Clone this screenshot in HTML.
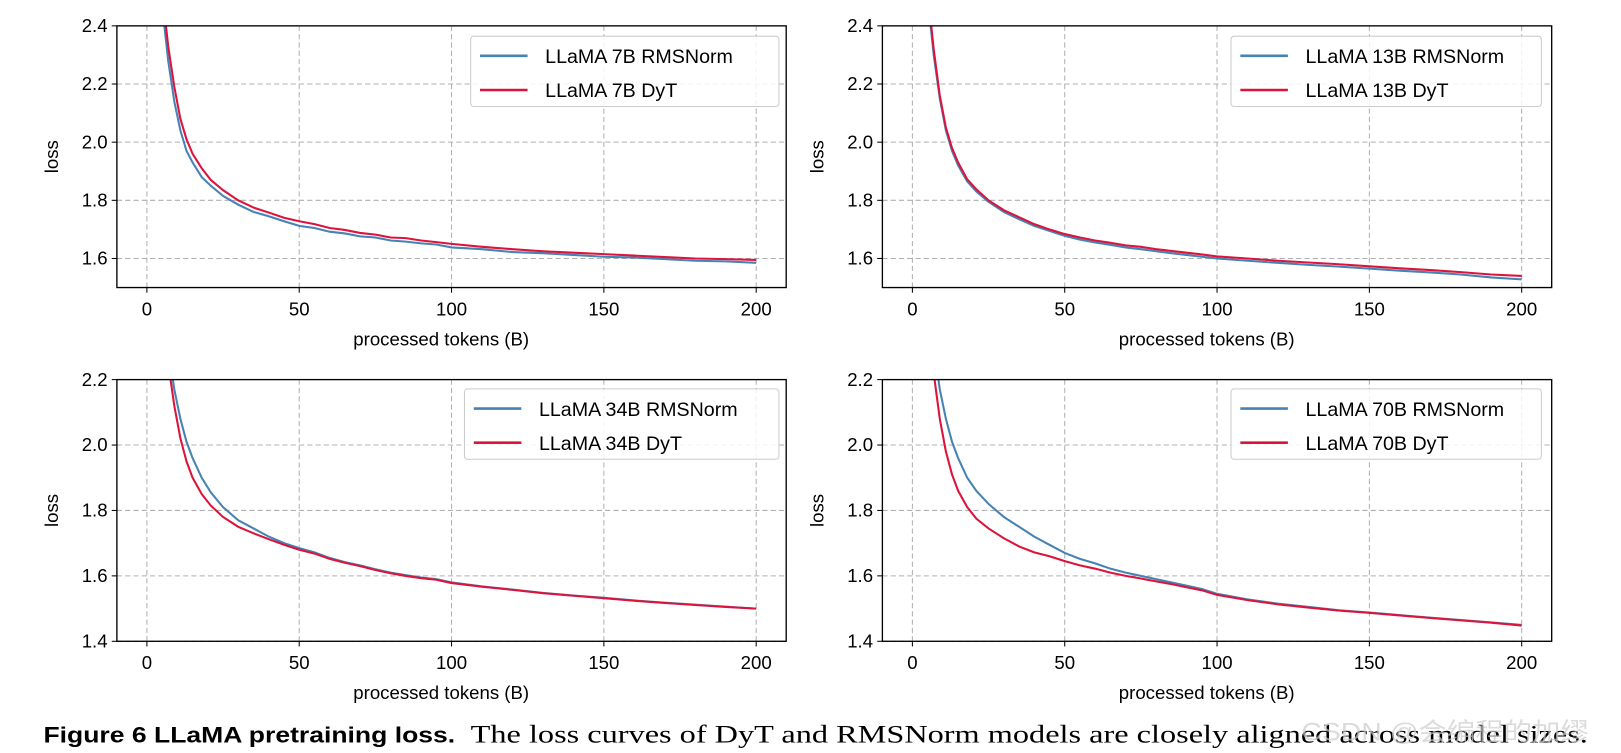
<!DOCTYPE html>
<html><head><meta charset="utf-8"><style>
body{margin:0;background:#fff;width:1621px;height:753px;overflow:hidden}
svg{display:block;font-family:"Liberation Sans",sans-serif}
</style></head><body>
<svg id="fig" width="1621" height="753" viewBox="0 0 1567 728" preserveAspectRatio="none">
<text x="42" y="718" font-size="21" font-weight="bold" fill="#000" textLength="398" lengthAdjust="spacingAndGlyphs">Figure 6  LLaMA pretraining loss.</text>
<text x="455" y="718" font-size="24" font-family="Liberation Serif,serif" fill="#000" textLength="1080" lengthAdjust="spacingAndGlyphs">The loss curves of DyT and RMSNorm models are closely aligned across model sizes.</text>
<text x="1258" y="716" font-size="24" fill="#ccc" opacity="0.7" textLength="278" lengthAdjust="spacingAndGlyphs" font-family="Liberation Sans,'Noto Sans CJK SC',sans-serif">CSDN @会编程的加缪</text>
</svg>
<script>
const xs=[5,7,9,11,13,15,18,21,25,30,35,40,45,50,55,60,65,70,75,80,85,90,95,100,110,120,130,140,150,160,170,180,190,200];
const rms7=[2.47,2.28,2.14,2.04,1.97,1.93,1.88,1.85,1.815,1.785,1.76,1.745,1.728,1.712,1.705,1.692,1.686,1.676,1.672,1.662,1.658,1.652,1.648,1.638,1.632,1.622,1.618,1.612,1.606,1.603,1.598,1.592,1.59,1.585];
const dyt7=[2.52,2.33,2.19,2.08,2.01,1.96,1.91,1.87,1.835,1.8,1.775,1.758,1.74,1.728,1.718,1.705,1.698,1.688,1.682,1.672,1.67,1.662,1.656,1.65,1.64,1.632,1.625,1.62,1.615,1.61,1.605,1.6,1.598,1.595];
const rms13=[2.5,2.3,2.15,2.04,1.97,1.92,1.865,1.83,1.795,1.76,1.735,1.712,1.695,1.678,1.665,1.655,1.647,1.638,1.632,1.625,1.618,1.612,1.606,1.6,1.592,1.585,1.578,1.572,1.565,1.558,1.552,1.545,1.535,1.528];
const dyt13=[2.52,2.32,2.16,2.05,1.98,1.93,1.872,1.838,1.8,1.766,1.742,1.718,1.7,1.684,1.672,1.662,1.654,1.645,1.64,1.632,1.626,1.62,1.614,1.607,1.6,1.592,1.586,1.58,1.573,1.566,1.56,1.553,1.545,1.54];
const rms34=[2.45,2.3,2.17,2.08,2.01,1.96,1.9,1.855,1.81,1.77,1.745,1.72,1.7,1.685,1.672,1.655,1.642,1.632,1.62,1.61,1.602,1.595,1.59,1.58,1.568,1.558,1.548,1.54,1.533,1.525,1.518,1.512,1.506,1.5];
const dyt34=[2.45,2.25,2.12,2.02,1.95,1.9,1.85,1.815,1.78,1.75,1.73,1.712,1.695,1.68,1.668,1.652,1.64,1.63,1.618,1.608,1.6,1.593,1.588,1.578,1.567,1.557,1.547,1.539,1.532,1.524,1.517,1.511,1.505,1.5];
const rms70=[2.45,2.3,2.17,2.08,2.01,1.96,1.9,1.86,1.82,1.78,1.75,1.72,1.695,1.67,1.652,1.638,1.622,1.61,1.6,1.59,1.58,1.57,1.56,1.545,1.528,1.515,1.505,1.495,1.488,1.48,1.472,1.465,1.458,1.45];
const dyt70=[2.4,2.22,2.08,1.98,1.91,1.86,1.81,1.775,1.745,1.715,1.69,1.672,1.66,1.645,1.632,1.622,1.61,1.6,1.592,1.583,1.575,1.565,1.556,1.542,1.526,1.513,1.503,1.494,1.487,1.479,1.471,1.464,1.457,1.448];
const xTicks=[0,50,100,150,200];
const yTicksTop=[1.6,1.8,2.0,2.2,2.4];
const yTicksBot=[1.4,1.6,1.8,2.0,2.2];
const panels=[
 {name:'7b',L:113,R:760,T:25,B:278,x0:142,x1:731,ymin:1.5,ymax:2.4,ticks:yTicksTop,lx:455,ly:35,lw:298,r:rms7,d:dyt7,lab:'LLaMA 7B'},
 {name:'13b',L:853,R:1500,T:25,B:278,x0:882,x1:1471,ymin:1.5,ymax:2.4,ticks:yTicksTop,lx:1190,ly:35,lw:300,r:rms13,d:dyt13,lab:'LLaMA 13B'},
 {name:'34b',L:113,R:760,T:367,B:620,x0:142,x1:731,ymin:1.4,ymax:2.2,ticks:yTicksBot,lx:449,ly:376,lw:304,r:rms34,d:dyt34,lab:'LLaMA 34B'},
 {name:'70b',L:853,R:1500,T:367,B:620,x0:882,x1:1471,ymin:1.4,ymax:2.2,ticks:yTicksBot,lx:1190,ly:376,lw:300,r:rms70,d:dyt70,lab:'LLaMA 70B'}];
const svg=document.getElementById('fig');const NS='http://www.w3.org/2000/svg';
function mk(t,a,p){const e=document.createElementNS(NS,t);for(const k in a)e.setAttribute(k,a[k]);(p||svg).appendChild(e);return e;}
panels.forEach(p=>{
 const g=mk('g',{});
 
 
 const sx=v=>p.x0+(v-0)*(p.x1-p.x0)/200;
 const sy=v=>p.B-(v-p.ymin)*(p.B-p.T)/(p.ymax-p.ymin);
 const cp=mk('clipPath',{id:'c'+p.name},g);mk('rect',{x:p.L,y:p.T,width:p.R-p.L,height:p.B-p.T},cp);
 xTicks.forEach(v=>{const x=sx(v);
  const gl=mk('line',{x1:x,x2:x,y1:p.T,y2:p.B,stroke:'#b0b0b0','stroke-dasharray':'5,3','stroke-width':1},g);
  
  mk('line',{x1:x,x2:x,y1:p.B,y2:p.B+5,stroke:'#000'},g);
  const t=mk('text',{x:x,y:p.B+27,'font-size':18,'text-anchor':'middle'},g);t.textContent=v;
  });
 p.ticks.forEach(v=>{const y=sy(v);
  if(v<p.ymax){const gl=mk('line',{x1:p.L,x2:p.R,y1:y,y2:y,stroke:'#b0b0b0','stroke-dasharray':'5,3','stroke-width':1},g);
  }
  mk('line',{x1:p.L-5,x2:p.L,y1:y,y2:y,stroke:'#000'},g);
  const t=mk('text',{x:p.L-9,y:y+6,'font-size':18,'text-anchor':'end'},g);t.textContent=v.toFixed(1);
  });
 [[p.r,'#4682b4','rmsnorm'],[p.d,'#dc143c','dyt']].forEach(([arr,c,n])=>{
  const pts=xs.map((x,i)=>sx(x).toFixed(1)+','+sy(arr[i]).toFixed(1)).join(' ');
  const l=mk('polyline',{points:pts,fill:'none',stroke:c,'stroke-width':2,'clip-path':'url(#c'+p.name+')'},g);
  });
 const fr=mk('rect',{x:p.L,y:p.T,width:p.R-p.L,height:p.B-p.T,fill:'none',stroke:'#000','stroke-width':1.3},g);
 
 const xl=mk('text',{x:(p.L+p.R)/2-10,y:p.B+56,'font-size':18,'text-anchor':'middle'},g);xl.textContent='processed tokens (B)';
 
 const yl=mk('text',{x:0,y:0,'font-size':18,'text-anchor':'middle',transform:`translate(${p.L-57},${(p.T+p.B)/2}) rotate(-90)`},g);yl.textContent='loss';
 
 const lg=mk('g',{},g);
 
 mk('rect',{x:p.lx,y:p.ly,width:p.lw,height:68,rx:3,fill:'#fff','fill-opacity':0.85,stroke:'#ccc'},lg);
 [['RMSNorm','#4682b4'],['DyT','#dc143c']].forEach(([s,c],i)=>{const y=p.ly+19+i*33;
  mk('line',{x1:p.lx+9,x2:p.lx+55,y1:y,y2:y,stroke:c,'stroke-width':2.5},lg);
  const t=mk('text',{x:p.lx+72,y:y+7,'font-size':19},lg);t.textContent=p.lab+' '+s;
  });
});
</script>
</body></html>
